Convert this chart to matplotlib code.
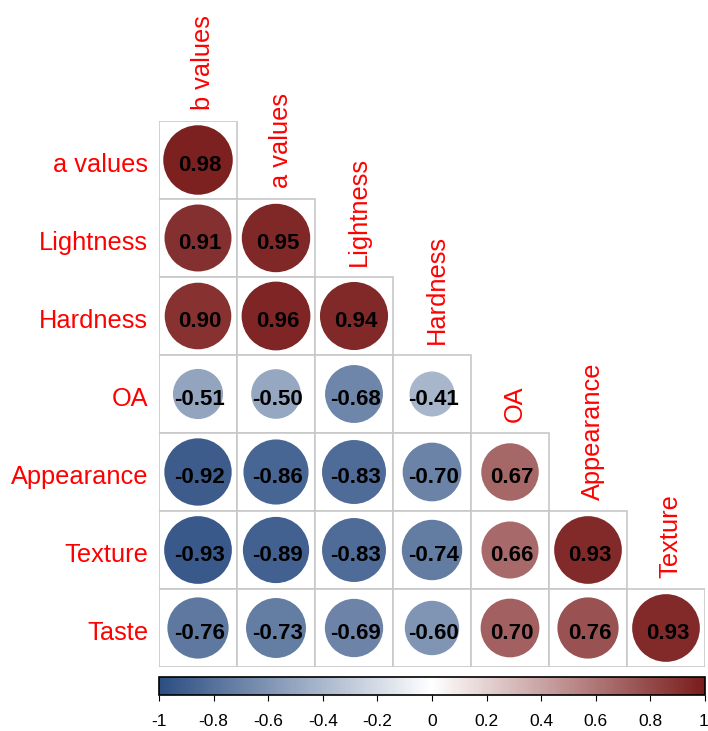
import numpy as np
import matplotlib
matplotlib.use("Agg")
import matplotlib.pyplot as plt
import matplotlib.transforms as mtransforms
from matplotlib.patches import Circle, Rectangle
from matplotlib.colors import LinearSegmentedColormap, Normalize
from matplotlib.colorbar import ColorbarBase

plt.rcParams['font.family'] = ['Liberation Sans', 'DejaVu Sans']

row_labels = ["a values", "Lightness", "Hardness", "OA", "Appearance", "Texture", "Taste"]
col_labels = ["b values", "a values", "Lightness", "Hardness", "OA", "Appearance", "Texture"]
values = [
    [0.98],
    [0.91, 0.95],
    [0.90, 0.96, 0.94],
    [-0.51, -0.50, -0.68, -0.41],
    [-0.92, -0.86, -0.83, -0.70, 0.67],
    [-0.93, -0.89, -0.83, -0.74, 0.66, 0.93],
    [-0.76, -0.73, -0.69, -0.60, 0.70, 0.76, 0.93],
]
cbar_ticks = [-1, -0.8, -0.6, -0.4, -0.2, 0, 0.2, 0.4, 0.6, 0.8, 1]
cbar_ticklabels = ["-1", "-0.8", "-0.6", "-0.4", "-0.2", "0", "0.2", "0.4", "0.6", "0.8", "1"]

W, H = 708, 731
fig = plt.figure(figsize=(W / 100, H / 100), dpi=100)
cmap = LinearSegmentedColormap.from_list("rb", ["#2C4E82", "#FFFFFF", "#7A1C1C"])
norm = Normalize(-1, 1)

n = len(row_labels)
ax = fig.add_axes([159 / W, 1 - 667 / H, 546 / W, 546 / H])
ax.set_xlim(0, n)
ax.set_ylim(n, 0)
ax.axis("off")

for i, row in enumerate(values):
    for j, v in enumerate(row):
        ax.add_patch(Rectangle((j, i), 1, 1, facecolor="white", edgecolor="#C8C8C8", lw=1.2, zorder=1))
        ax.add_patch(Circle((j + 0.5, i + 0.5), 0.45 * np.sqrt(abs(v)), facecolor=cmap(norm(v)),
                            edgecolor="none", zorder=2))
        ax.text(j + 0.52, i + 0.57, f"{v:.2f}", ha="center", va="center", fontsize=16,
                fontweight="bold", color="black", zorder=3)

for i, lab in enumerate(row_labels):
    ax.text(-0.14, i + 0.56, lab, ha="right", va="center", fontsize=18.3, color="red", clip_on=False)
for j, lab in enumerate(col_labels):
    ax.text(j + 0.56, j - 0.14, lab, ha="center", va="bottom", rotation=90, fontsize=18.3,
            color="red", clip_on=False)

cax = fig.add_axes([159 / W, 1 - 695 / H, 546 / W, 18 / H])
cb = ColorbarBase(cax, cmap=cmap, norm=norm, orientation="horizontal", ticks=cbar_ticks)
cb.set_ticklabels(cbar_ticklabels)
cb.outline.set_linewidth(1.2)
cax.tick_params(axis="x", direction="out", length=4, width=0.8, pad=10, labelsize=12.5, colors="black")
last = cax.get_xticklabels()[-1]
last.set_transform(last.get_transform() + mtransforms.ScaledTranslation(-2 / 100, 0, fig.dpi_scale_trans))

fig.savefig("out.png", dpi=100)
